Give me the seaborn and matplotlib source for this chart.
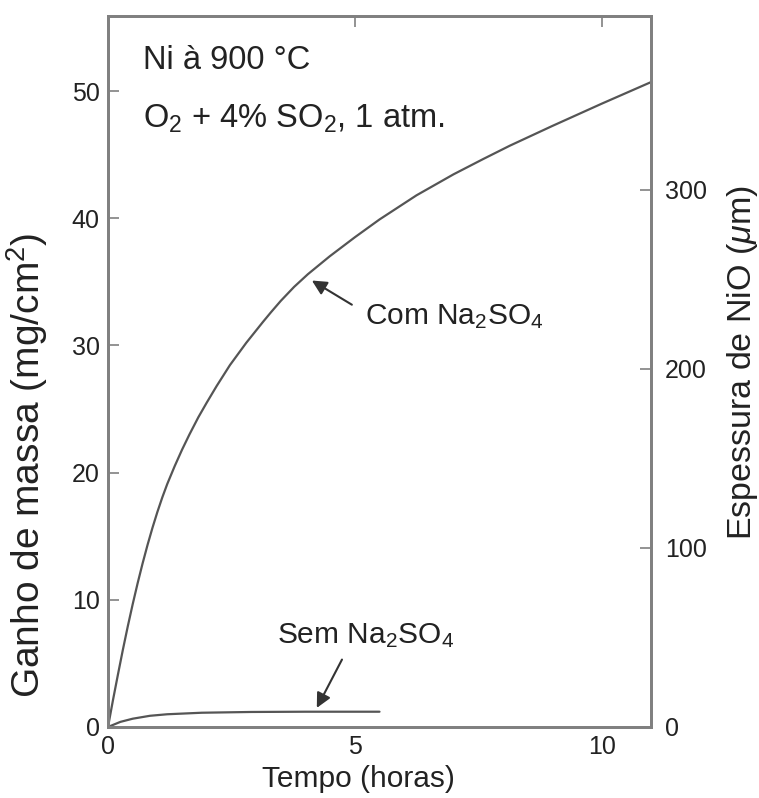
import pandas as pd
import seaborn as sns
import matplotlib.pyplot as plt

# values (mass gain, mg/cm2, vs time, h)
tempo_com = [0, 0.1, 0.2, 0.3, 0.4, 0.5, 0.6, 0.7, 0.8, 0.9, 1.0, 1.1, 1.2, 1.35, 1.5,
             1.65, 1.83, 2.0, 2.2, 2.47, 2.8, 3.14, 3.3, 3.5, 3.77, 4.05, 4.49, 5.0,
             5.5, 6.25, 7.0, 7.6, 8.14, 9.0, 10.0, 11.0]
ganho_com = [0, 2.1, 4.1, 6.05, 7.9, 9.65, 11.3, 12.85, 14.3, 15.65, 16.9, 18.05, 19.1,
             20.5, 21.8, 23.0, 24.35, 25.5, 26.8, 28.45, 30.2, 31.85, 32.6, 33.5, 34.6,
             35.6, 37.0, 38.5, 39.9, 41.8, 43.45, 44.65, 45.7, 47.25, 49.0, 50.7]

tempo_sem = [0, 0.25, 0.5, 0.85, 1.2, 1.9, 2.9, 4.0, 5.5]
ganho_sem = [0, 0.4, 0.65, 0.88, 1.0, 1.12, 1.18, 1.2, 1.2]

series = ['Com Na2SO4', 'Sem Na2SO4']

df = pd.concat([
    pd.DataFrame({'Tempo': tempo_com, 'Ganho': ganho_com, 'Serie': series[0]}),
    pd.DataFrame({'Tempo': tempo_sem, 'Ganho': ganho_sem, 'Serie': series[1]}),
])

sns.set_style('white')
plt.rcParams['font.family'] = ['Liberation Sans', 'DejaVu Sans']
plt.rcParams['mathtext.fontset'] = 'custom'
plt.rcParams['mathtext.rm'] = 'Liberation Sans'
plt.rcParams['mathtext.it'] = 'Liberation Sans:italic'

txt = '#222222'
spine = '#808080'

fig = plt.figure(figsize=(7.59, 7.98), dpi=100)
ax = fig.add_axes([0.1423, 0.089, 0.7154, 0.891])

sns.lineplot(data=df, x='Tempo', y='Ganho', hue='Serie', palette=['#555555', '#555555'],
             sort=False, estimator=None, linewidth=1.6, legend=False, ax=ax)

ax.set_xlim(0, 11)
ax.set_ylim(0, 55.9)
ax.set_xticks([0, 5, 10])
ax.set_yticks([0, 10, 20, 30, 40, 50])
ax.set_xlabel('Tempo (horas)', fontsize=21.5, color=txt)
ax.set_ylabel('Ganho de massa (mg/cm$^2$)', fontsize=28, color=txt)
ax.xaxis.set_label_coords(0.462, -0.053)
ax.yaxis.set_label_coords(-0.106, 0.368)
ax.tick_params(direction='in', length=8, width=1.2, color=spine, labelsize=18,
               labelcolor=txt, top=True, right=False, pad=6)

ax2 = ax.twinx()
ax2.set_ylim(0, 397)
ax2.set_yticks([0, 100, 200, 300])
ax2.set_ylabel('Espessura de NiO ($\\mu$m)', fontsize=24.5, color=txt)
ax2.yaxis.set_label_coords(1.136, 0.512)
ax2.tick_params(direction='in', length=8, width=1.2, color=spine, labelsize=18,
                labelcolor=txt, pad=10)

for a in (ax, ax2):
    for s in a.spines.values():
        s.set_color(spine)
        s.set_linewidth(2)

ax.text(0.71, 52.4, 'Ni à 900 °C', fontsize=23.5, color=txt, ha='left', va='center')
ax.text(0.71, 47.8, 'O$_2$ + 4% SO$_2$, 1 atm.', fontsize=23.5, color=txt, ha='left', va='center')

arrow = dict(arrowstyle='-|>', color='#333333', lw=1.5, mutation_scale=22, shrinkA=0, shrinkB=0)
ax.annotate('', xy=(4.13, 35.1), xytext=(4.94, 33.2), arrowprops=arrow)
ax.text(5.2, 32.3, 'Com Na$_2$SO$_4$', fontsize=21.5, color=txt, ha='left', va='center')
ax.annotate('', xy=(4.23, 1.5), xytext=(4.74, 5.3), arrowprops=arrow)
ax.text(3.42, 7.15, 'Sem Na$_2$SO$_4$', fontsize=21.5, color=txt, ha='left', va='center')

plt.savefig('out.png', dpi=100)
